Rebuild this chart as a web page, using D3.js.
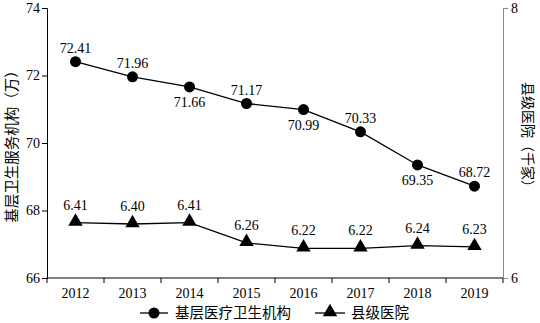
<!DOCTYPE html>
<html><head><meta charset="utf-8">
<script src="https://cdn.jsdelivr.net/npm/d3@7"></script>
<style>body{margin:0;background:#fff}svg{display:block}text{fill:#000}</style>
</head><body>
<svg id="c" width="540" height="323"></svg>
<script>
const years = ["2012","2013","2014","2015","2016","2017","2018","2019"];
const primaryCare = [72.41,71.96,71.66,71.17,70.99,70.33,69.35,68.72];
const countyHosp = [6.41,6.40,6.41,6.26,6.22,6.22,6.24,6.23];
const leftTicks = [66,68,70,72,74];
const rightTicks = [6,8];
const primaryBelow = [false,false,true,false,true,false,true,false];
const seriesNames = ["基层医疗卫生机构","县级医院"];
const leftTitle = "基层卫生服务机构（万）";
const rightTitle = "县级医院（千家）";

const SERIF = "'Liberation Serif','Times New Roman',serif";
const CJK = "'Noto Sans CJK SC',sans-serif";

const svg = d3.select("#c");
const L = 47, R = 503, T = 8, B = 278;
const x = d3.scaleBand().domain(years).range([L, R]);
const yL = d3.scaleLinear().domain([66,74]).range([B, T]);
const yR = d3.scaleLinear().domain([6,8]).range([B, T]);

// x axis
const gx = svg.append("g").attr("transform",`translate(0,${B})`);
gx.append("line").attr("x1",L).attr("x2",R).attr("stroke","#000");
const bounds = d3.range(years.length+1).map(i => L + i*x.bandwidth());
gx.selectAll(".xt").data(bounds).join("line").attr("x1",d=>d).attr("x2",d=>d).attr("y1",0).attr("y2",5).attr("stroke","#000");
gx.selectAll(".xl").data(years).join("text").attr("x",d=>x(d)+x.bandwidth()/2).attr("y",20).attr("text-anchor","middle").attr("font-size",14).attr("font-family",SERIF).text(d=>d);

// left axis
const gl = svg.append("g").attr("transform",`translate(${L},0)`).call(d3.axisLeft(yL).tickValues(leftTicks).tickSize(5).tickFormat(d3.format("d")));
gl.select(".domain").attr("stroke","#000");
gl.selectAll(".tick line").attr("stroke","#000");
gl.selectAll(".tick text").attr("font-size",14).attr("font-family",SERIF).attr("fill","#000").attr("x",-7);

// right axis
const gr = svg.append("g").attr("transform",`translate(${R},0)`).call(d3.axisRight(yR).tickValues(rightTicks).tickSize(5).tickFormat(d3.format("d")));
gr.select(".domain").attr("stroke","#888");
gr.selectAll(".tick line").attr("stroke","#888");
gr.selectAll(".tick text").attr("font-size",14).attr("font-family",SERIF).attr("fill","#000").attr("x",8);

// axis titles
svg.append("text").attr("transform",`translate(10,${(T+B)/2}) rotate(-90)`).attr("text-anchor","middle").attr("dominant-baseline","central").attr("font-size",14.5).attr("font-family",CJK).text(leftTitle);
svg.append("text").attr("transform",`translate(529,${(T+B)/2-5}) rotate(90)`).attr("text-anchor","middle").attr("dominant-baseline","central").attr("font-size",14).attr("font-family",CJK).text(rightTitle);

const cx = d => x(d)+x.bandwidth()/2;
const tri = d3.symbol().type(d3.symbolTriangle).size(90);

// primary line
svg.append("path").datum(primaryCare).attr("fill","none").attr("stroke","#000").attr("stroke-width",1.3)
  .attr("d", d3.line().x((d,i)=>cx(years[i])).y(d=>yL(d)));
svg.selectAll(".pc").data(primaryCare).join("circle").attr("cx",(d,i)=>cx(years[i])).attr("cy",d=>yL(d)).attr("r",5.5).attr("fill","#000");
svg.selectAll(".pl").data(primaryCare).join("text").attr("x",(d,i)=>cx(years[i])).attr("y",(d,i)=>primaryBelow[i]? yL(d)+20 : yL(d)-9)
  .attr("text-anchor","middle").attr("font-size",14).attr("font-family",SERIF).text(d=>d.toFixed(2));

// county line
svg.append("path").datum(countyHosp).attr("fill","none").attr("stroke","#000").attr("stroke-width",1.3)
  .attr("d", d3.line().x((d,i)=>cx(years[i])).y(d=>yR(d)));
svg.selectAll(".ct").data(countyHosp).join("path").attr("d",tri).attr("transform",(d,i)=>`translate(${cx(years[i])},${yR(d)-1})`).attr("fill","#000");
svg.selectAll(".cl").data(countyHosp).join("text").attr("x",(d,i)=>cx(years[i])).attr("y",d=>yR(d)-13)
  .attr("text-anchor","middle").attr("font-size",14).attr("font-family",SERIF).text(d=>d.toFixed(2));

// legend
const lg = svg.append("g");
lg.append("line").attr("x1",140).attr("x2",168).attr("y1",313).attr("y2",313).attr("stroke","#000").attr("stroke-width",1.3);
lg.append("circle").attr("cx",154).attr("cy",313).attr("r",5.5).attr("fill","#000");
lg.append("text").attr("x",175).attr("y",318).attr("font-size",14.5).attr("font-family",CJK).text(seriesNames[0]);
lg.append("line").attr("x1",315).attr("x2",345).attr("y1",313).attr("y2",313).attr("stroke","#000").attr("stroke-width",1.3);
lg.append("path").attr("d",tri).attr("transform","translate(330,312)").attr("fill","#000");
lg.append("text").attr("x",351).attr("y",318).attr("font-size",14.5).attr("font-family",CJK).text(seriesNames[1]);
</script>
</body></html>
